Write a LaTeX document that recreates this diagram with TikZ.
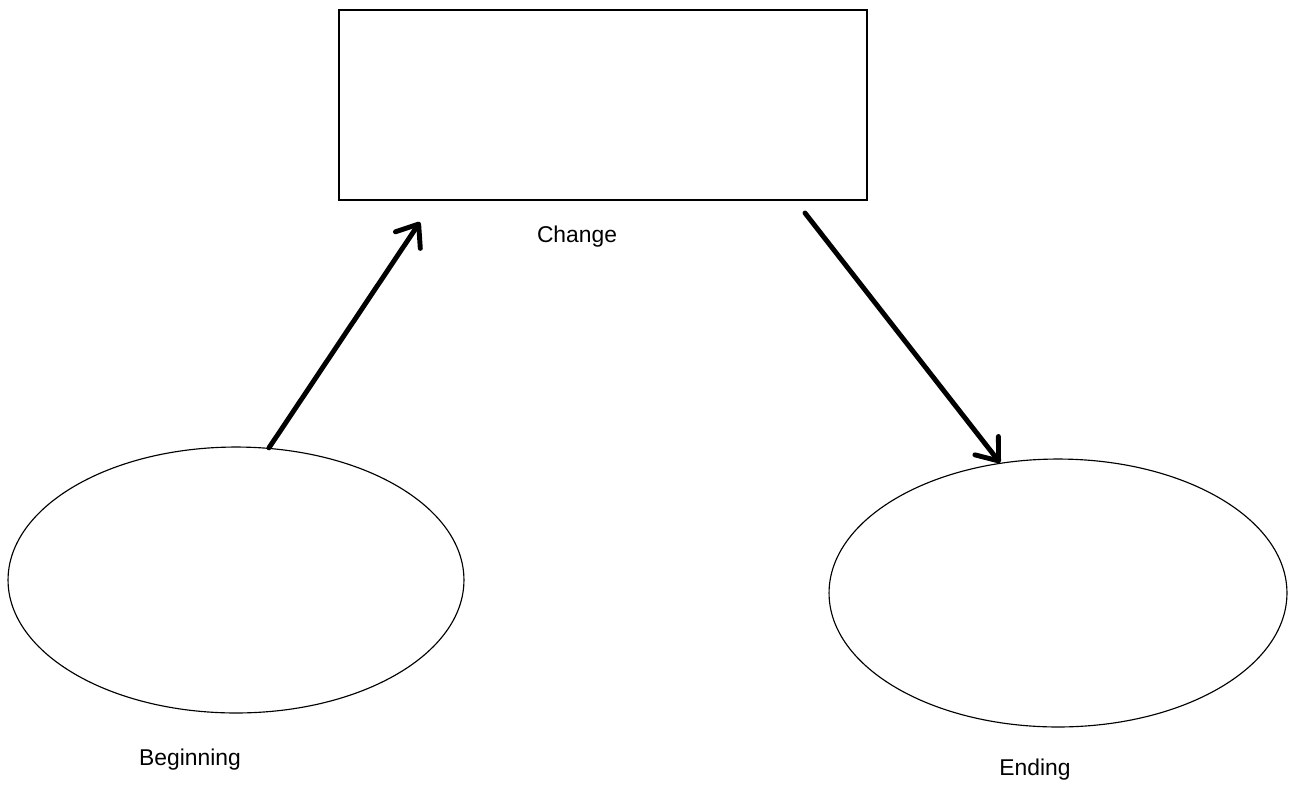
\documentclass[tikz,border=0pt]{standalone}
\usepackage{fontspec}
\setmainfont{Liberation Sans}
\usetikzlibrary{arrows.meta,shapes.geometric}
\begin{document}
\begin{tikzpicture}[x=0.02cm, y=-0.02cm]
        \tikzstyle{stage}=[draw=black, line width=0.65pt, inner sep=0pt]
        \tikzstyle{oval}=[stage, ellipse]
        \tikzstyle{caption}=[inner sep=0pt, font=\fontsize{13}{15}\selectfont]
        \tikzstyle{flow}=[line width=2.8pt, line cap=round, -{Straight Barb[length=11pt, width=17pt, round]}]
        \useasboundingbox (0, 0) rectangle (1291, 785);

        % Change
        \draw node at (603, 105) [stage, minimum width=10.56cm, minimum height=3.8cm] (change) {};
        \draw node at (577, 237) [caption] (change_label) {Change};

        % Beginning
        \draw node at (236, 580) [oval, minimum width=9.12cm, minimum height=5.32cm] (beginning) {};
        \draw node at (190, 760) [caption] (beginning_label) {Beginning};

        % Ending
        \draw node at (1058, 593) [oval, minimum width=9.16cm, minimum height=5.36cm] (ending) {};
        \draw node at (1035, 770) [caption] (ending_label) {Ending};

        % free ends below the box
        \coordinate (change_in) at (420, 222);
        \coordinate (change_out) at (805, 213);

        \draw [flow] (beginning.76) -- (change_in);
        \draw [flow] (change_out) -- (ending.114);
    \end{tikzpicture}
\end{document}
